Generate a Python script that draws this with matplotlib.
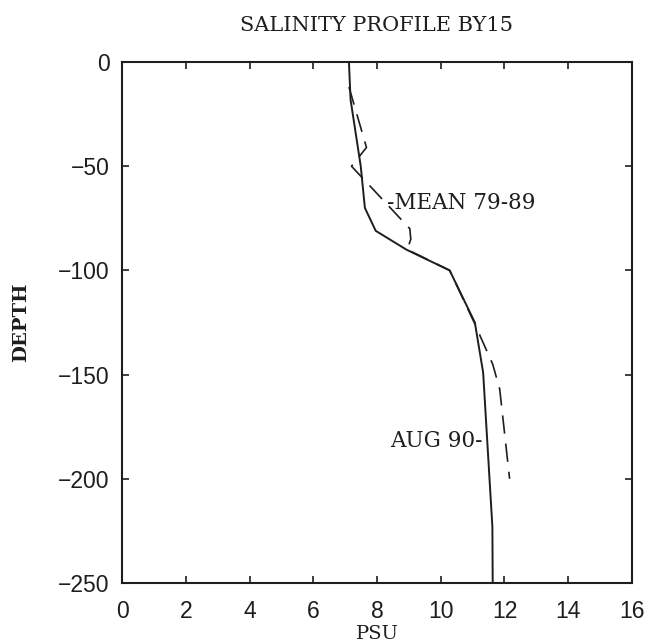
import matplotlib
matplotlib.use("Agg")
import matplotlib.pyplot as plt

# AUG 90 profile (solid)
aug_psu = [7.12, 7.17, 7.49, 7.62, 7.96, 8.92, 10.28, 11.07, 11.33, 11.62, 11.63]
aug_depth = [0, -18, -50, -70, -81, -90, -100, -125, -149, -223, -250]

# MEAN 79-89 profile (dashed)
mean_psu = [7.12, 7.67, 7.2, 9.03, 9.06, 8.95, 10.28, 11.05, 11.28, 11.63, 11.85, 12.16]
mean_depth = [-12, -41, -50, -80, -85, -90, -100, -125, -133, -145, -157, -200]

x_ticks = [0, 2, 4, 6, 8, 10, 12, 14, 16]
y_ticks = [0, -50, -100, -150, -200, -250]

serif = 'DejaVu Serif'
sans = 'Liberation Sans'
ink = '#1e1e1e'

fig = plt.figure(figsize=(6.5, 6.44), dpi=100)
ax = fig.add_axes([0.1877, 0.0947, 0.7846, 0.809])

ax.plot(aug_psu, aug_depth, color=ink, lw=1.4, ls='-')
ax.plot(mean_psu, mean_depth, color=ink, lw=1.2, ls=(0, (11, 6)))

ax.set_xlim(0, 16)
ax.set_ylim(-250, 0)
ax.set_xticks(x_ticks)
ax.set_yticks(y_ticks)
ax.set_yticklabels([f"\u2212{abs(v)}" if v < 0 else str(v) for v in y_ticks])
ax.tick_params(direction='in', length=5, width=1.2, top=True, right=True,
               labelsize=16.5, colors=ink)
ax.tick_params(axis='x', pad=12)
ax.tick_params(axis='y', pad=9)
for lab in ax.get_xticklabels() + ax.get_yticklabels():
    lab.set_family(sans)
for s in ax.spines.values():
    s.set_linewidth(1.5)
    s.set_color(ink)

ax.set_title('SALINITY PROFILE BY15', family=serif, fontsize=15, pad=22, color=ink)
ax.set_xlabel('PSU', family=serif, fontsize=14, color=ink, va='center')
ax.xaxis.set_label_coords(0.5, -0.097)
ax.set_ylabel('DEPTH', family=serif, fontsize=14, fontweight='bold', color=ink, va='center')
ax.yaxis.set_label_coords(-0.198, 0.5)

ax.text(8.3, -67.5, '-MEAN 79-89', family=serif, fontsize=15.5, va='center', ha='left', color=ink)
ax.text(11.3, -182, 'AUG 90-', family=serif, fontsize=15.5, va='center', ha='right', color=ink)

fig.savefig('out.png', dpi=100, facecolor='white')
